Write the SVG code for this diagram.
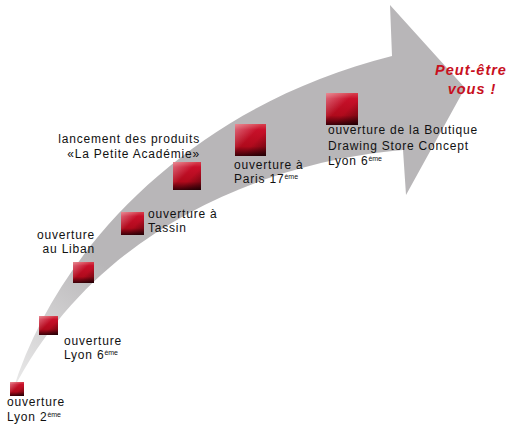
<svg xmlns="http://www.w3.org/2000/svg" width="513" height="426" viewBox="0 0 513 426">
<style>
.t{font-family:"Liberation Sans",Arial,sans-serif;font-size:12px;letter-spacing:0.8px;fill:#111}
.sup{font-size:7px;letter-spacing:0}
.red{font-family:"Liberation Sans",Arial,sans-serif;font-size:14.5px;font-weight:bold;font-style:italic;letter-spacing:1px;fill:#c8101e}
.sq{fill:url(#sqV)}
.sh{fill:url(#sqD)}
</style>
<defs>
<linearGradient id="arrowG" gradientUnits="userSpaceOnUse" x1="15" y1="395" x2="110" y2="270">
<stop offset="0" stop-color="#ececec"/>
<stop offset="1" stop-color="#b8b6b8"/>
</linearGradient>
<linearGradient id="sqV" x1="0" y1="0" x2="0" y2="1">
<stop offset="0" stop-color="#d8404e"/>
<stop offset="0.18" stop-color="#c8102a"/>
<stop offset="0.7" stop-color="#b00a1c"/>
<stop offset="1" stop-color="#3a0008"/>
</linearGradient>
<linearGradient id="sqD" x1="0" y1="0" x2="1" y2="1">
<stop offset="0" stop-color="#ffffff" stop-opacity="0.4"/>
<stop offset="0.45" stop-color="#ffffff" stop-opacity="0"/>
<stop offset="0.6" stop-color="#000000" stop-opacity="0"/>
<stop offset="1" stop-color="#000000" stop-opacity="0.45"/>
</linearGradient>
</defs>
<g id="connectors">
<path id="arrow" fill="url(#arrowG)" d="M13,390 C58,245 195,105 392,56 L390,5 L465,88 L406,195 L403,150 C280,160 100,220 13,390 Z"/>
</g>
<g id="n1">
<rect class="sq" x="10" y="382" width="14" height="14"/><rect class="sh" x="10" y="382" width="14" height="14"/>
<text class="t" x="7" y="406">ouverture</text>
<text class="t" x="7" y="421">Lyon 2<tspan class="sup" dy="-4">ème</tspan></text>
</g>
<g id="n2">
<rect class="sq" x="39" y="316" width="19" height="19"/><rect class="sh" x="39" y="316" width="19" height="19"/>
<text class="t" x="64" y="345">ouverture</text>
<text class="t" x="64" y="359">Lyon 6<tspan class="sup" dy="-4">ème</tspan></text>
</g>
<g id="n3">
<rect class="sq" x="73" y="262" width="21" height="21"/><rect class="sh" x="73" y="262" width="21" height="21"/>
<text class="t" x="95" y="239" text-anchor="end">ouverture</text>
<text class="t" x="95" y="253" text-anchor="end">au Liban</text>
</g>
<g id="n4">
<rect class="sq" x="121" y="212" width="23" height="23"/><rect class="sh" x="121" y="212" width="23" height="23"/>
<text class="t" x="148" y="218">ouverture à</text>
<text class="t" x="148" y="232">Tassin</text>
</g>
<g id="n5">
<rect class="sq" x="173" y="162" width="28" height="28"/><rect class="sh" x="173" y="162" width="28" height="28"/>
<text class="t" x="200" y="143" text-anchor="end">lancement des produits</text>
<text class="t" x="200" y="158" text-anchor="end">«La Petite Académie»</text>
</g>
<g id="n6">
<rect class="sq" x="235" y="124" width="31" height="32"/><rect class="sh" x="235" y="124" width="31" height="32"/>
<text class="t" x="234" y="169">ouverture à</text>
<text class="t" x="234" y="183">Paris 17<tspan class="sup" dy="-4">ème</tspan></text>
</g>
<g id="n7">
<rect class="sq" x="326" y="93" width="32" height="32"/><rect class="sh" x="326" y="93" width="32" height="32"/>
<text class="t" x="328" y="134">ouverture de la Boutique</text>
<text class="t" x="328" y="150">Drawing Store Concept</text>
<text class="t" x="328" y="165">Lyon 6<tspan class="sup" dy="-4">ème</tspan></text>
</g>
<g id="n8">
<text class="red" x="471" y="75" text-anchor="middle">Peut-être</text>
<text class="red" x="472" y="94" text-anchor="middle">vous !</text>
</g>
</svg>
